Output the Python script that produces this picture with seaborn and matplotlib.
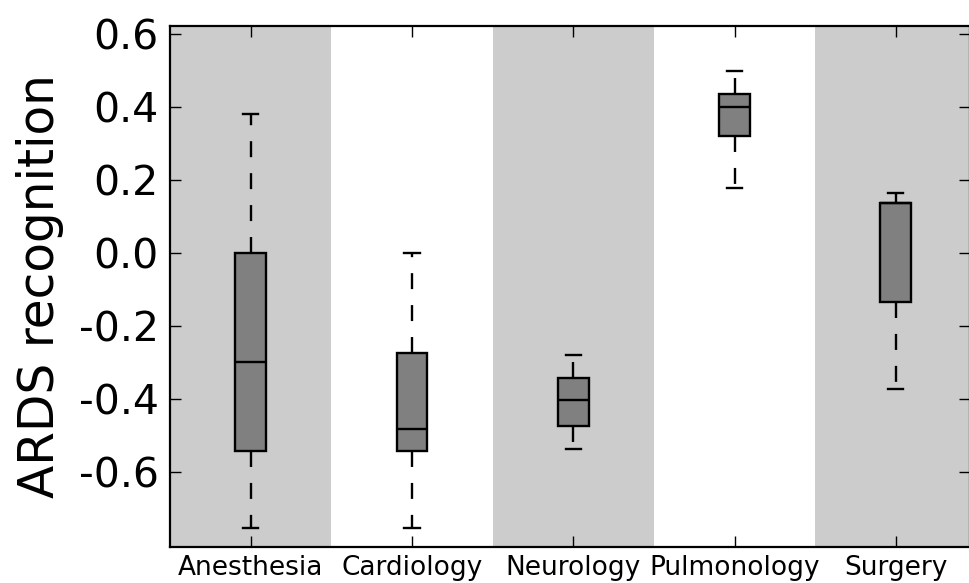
import matplotlib
matplotlib.use("Agg")
import matplotlib.pyplot as plt
import seaborn as sns
import pandas as pd

# Five-number summaries
categories = ["Anesthesia", "Cardiology", "Neurology", "Pulmonology", "Surgery"]
whisker_low = [-0.753, -0.753, -0.537, 0.178, -0.373]
q1 = [-0.542, -0.542, -0.474, 0.321, -0.134]
median = [-0.299, -0.482, -0.403, 0.400, 0.137]
q3 = [0.000, -0.274, -0.342, 0.436, 0.137]
whisker_high = [0.381, 0.000, -0.279, 0.499, 0.164]
yticks = [-0.6, -0.4, -0.2, 0.0, 0.2, 0.4, 0.6]

rows = []
for i, c in enumerate(categories):
    for v in (whisker_low[i], q1[i], median[i], q3[i], whisker_high[i]):
        rows.append({"dept": c, "value": v})
df = pd.DataFrame(rows)

plt.rcParams["axes.unicode_minus"] = False
plt.rcParams["lines.scale_dashes"] = False
plt.rcParams["font.family"] = ["DejaVu Sans"]

fig = plt.figure(figsize=(9.69, 5.83), dpi=100)
ax = fig.add_axes([170 / 969, 1 - 547 / 583, (970 - 170) / 969, (547 - 26) / 583])

for i in range(len(categories)):
    if i % 2 == 0:
        ax.axvspan(i - 0.5, i + 0.5, color="#cccccc", zorder=0, lw=0)

sns.boxplot(
    data=df, x="dept", y="value", order=categories, ax=ax,
    color="#808080", saturation=1, width=0.19, whis=(0, 100),
    linecolor="black", linewidth=1.7, fliersize=0,
    whiskerprops=dict(linestyle=(0, (11.5, 11.5))),
    zorder=3,
)

ax.set_xlim(-0.5, 4.46)
ax.set_ylim(-0.805, 0.622)
ax.set_yticks(yticks)
ax.set_yticklabels([f"{t:.1f}" for t in yticks])
ax.set_xlabel("")
ax.set_ylabel("ARDS recognition", fontsize=35, labelpad=11)
ax.tick_params(axis="y", labelsize=29.5, direction="in", length=8, width=1,
               right=True, left=True, pad=8)
ax.tick_params(axis="x", labelsize=19, direction="in", length=8, width=1,
               top=True, bottom=True, pad=6)
for s in ax.spines.values():
    s.set_linewidth(1.6)
    s.set_color("black")
    s.set_zorder(5)

fig.savefig("out.png", dpi=100)
